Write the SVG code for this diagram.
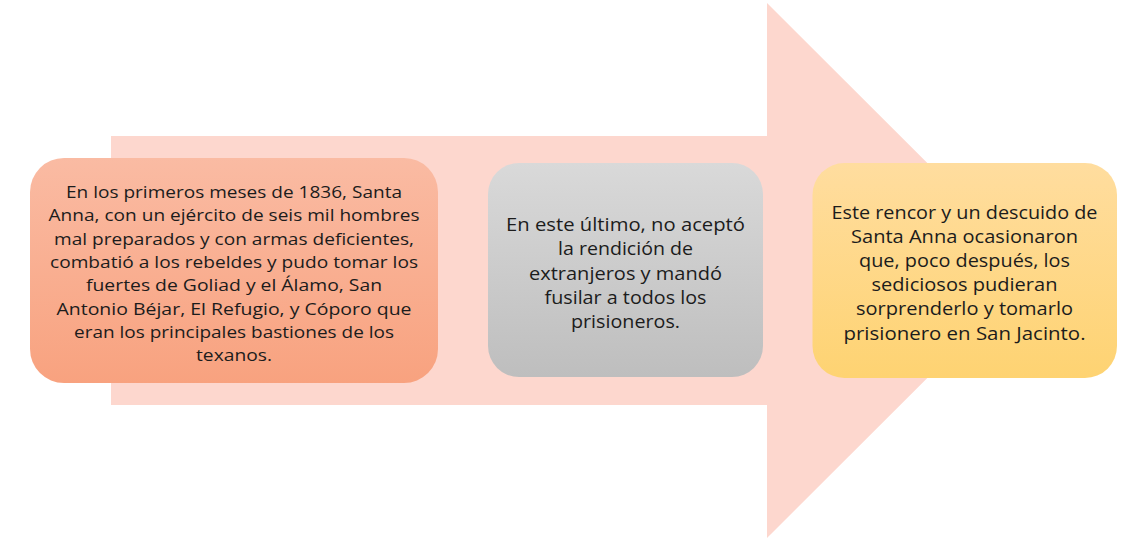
<svg xmlns="http://www.w3.org/2000/svg" width="1137" height="542" viewBox="0 0 1137 542">
<style>
text{font-family:"Open Sans",Lato,"Liberation Sans",sans-serif;fill:#1c1c1c;text-anchor:middle}
.t1{font-size:17.1px}
.t{font-size:17.8px}
</style>
<defs>
<linearGradient id="gO" x1="0" y1="0" x2="0" y2="1"><stop offset="0" stop-color="#FABBA3"/><stop offset="1" stop-color="#F8A27F"/></linearGradient>
<linearGradient id="gG" x1="0" y1="0" x2="0" y2="1"><stop offset="0" stop-color="#D9D9D9"/><stop offset="1" stop-color="#BEBEBE"/></linearGradient>
<linearGradient id="gY" x1="0" y1="0" x2="0" y2="1"><stop offset="0" stop-color="#FFDD9F"/><stop offset="1" stop-color="#FED372"/></linearGradient>
</defs>
<g id="arrow">
<polygon points="111,136 767,136 767,3 1035,270.5 767,538 767,405 111,405" fill="#FDD7CE"/>
</g>
<g id="connectors"></g>
<g id="node1">
<rect x="30" y="158" width="408" height="225" rx="34" fill="url(#gO)"/>
<text class="t1" x="234" y="198" textLength="336" lengthAdjust="spacingAndGlyphs">En los primeros meses de 1836, Santa</text>
<text class="t1" x="234" y="221.3" textLength="371" lengthAdjust="spacingAndGlyphs">Anna, con un ejército de seis mil hombres</text>
<text class="t1" x="234" y="244.6" textLength="360" lengthAdjust="spacingAndGlyphs">mal preparados y con armas deficientes,</text>
<text class="t1" x="234" y="267.9" textLength="368" lengthAdjust="spacingAndGlyphs">combatió a los rebeldes y pudo tomar los</text>
<text class="t1" x="234" y="291.2" textLength="296" lengthAdjust="spacingAndGlyphs">fuertes de Goliad y el Álamo, San</text>
<text class="t1" x="234" y="314.5" textLength="355" lengthAdjust="spacingAndGlyphs">Antonio Béjar, El Refugio, y Cóporo que</text>
<text class="t1" x="234" y="337.8" textLength="320" lengthAdjust="spacingAndGlyphs">eran los principales bastiones de los</text>
<text class="t1" x="234" y="361.1" textLength="76" lengthAdjust="spacingAndGlyphs">texanos.</text>
</g>
<g id="node2">
<rect x="488" y="163" width="275" height="214" rx="31" fill="url(#gG)"/>
<text class="t" x="625.5" y="230.7" textLength="239" lengthAdjust="spacingAndGlyphs">En este último, no aceptó</text>
<text class="t" x="625.5" y="255.1" textLength="135" lengthAdjust="spacingAndGlyphs">la rendición de</text>
<text class="t" x="625.5" y="279.5" textLength="193" lengthAdjust="spacingAndGlyphs">extranjeros y mandó</text>
<text class="t" x="625.5" y="303.9" textLength="162" lengthAdjust="spacingAndGlyphs">fusilar a todos los</text>
<text class="t" x="625.5" y="328.3" textLength="109" lengthAdjust="spacingAndGlyphs">prisioneros.</text>
</g>
<g id="node3">
<rect x="812.5" y="163" width="304.5" height="215" rx="32" fill="url(#gY)"/>
<text class="t" x="964.5" y="218.5" textLength="266" lengthAdjust="spacingAndGlyphs">Este rencor y un descuido de</text>
<text class="t" x="964.5" y="242.7" textLength="227" lengthAdjust="spacingAndGlyphs">Santa Anna ocasionaron</text>
<text class="t" x="964.5" y="266.9" textLength="211" lengthAdjust="spacingAndGlyphs">que, poco después, los</text>
<text class="t" x="964.5" y="291.1" textLength="186" lengthAdjust="spacingAndGlyphs">sediciosos pudieran</text>
<text class="t" x="964.5" y="315.3" textLength="217" lengthAdjust="spacingAndGlyphs">sorprenderlo y tomarlo</text>
<text class="t" x="964.5" y="339.5" textLength="242" lengthAdjust="spacingAndGlyphs">prisionero en San Jacinto.</text>
</g>
</svg>
